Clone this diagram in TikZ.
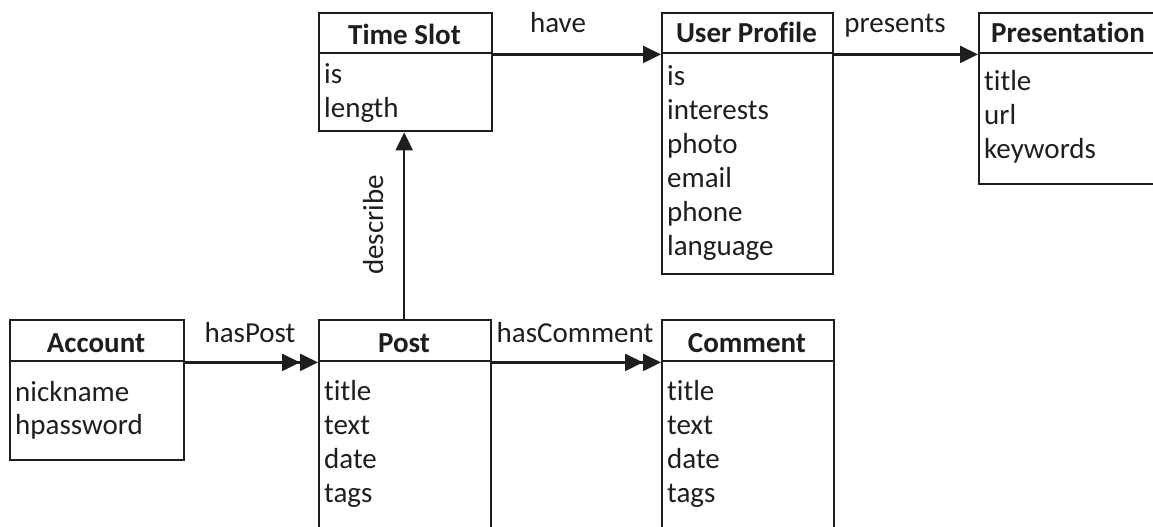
\documentclass[tikz,border=0pt]{standalone}
\usepackage{fontspec}
\setmainfont{Carlito}[Ligatures=NoCommon]
\usetikzlibrary{arrows.meta}
\definecolor{ink}{RGB}{30,30,30}
\begin{document}
\begin{tikzpicture}[x=1pt,y=-1pt,
  frame/.style={draw=ink, line width=2.4pt, rectangle, inner sep=0pt, anchor=north west},
  head/.style={font=\fontsize{29}{34}\selectfont\bfseries, text=ink, anchor=base, inner sep=0pt},
  field/.style={font=\fontsize{29}{34}\selectfont, text=ink, anchor=base west, inner sep=0pt},
  rel/.style={font=\fontsize{29}{34}\selectfont, text=ink, anchor=base, inner sep=0pt},
  tip/.style={},
  link/.style={draw=ink, line width=2.4pt, -{Triangle[length=18pt,width=17pt]}},
  dlink/.style={draw=ink, line width=2.4pt, -{Triangle[length=18pt,width=17pt,sep=0pt]Triangle[length=18pt,width=17pt]}},
]
\useasboundingbox (0,0) rectangle (1153,527);
\clip (0,0) rectangle (1153,527);

% Time Slot
\node[frame, minimum width=173pt, minimum height=40pt] (tsH) at (318,12) {};
\node[frame, minimum width=173pt, minimum height=78pt] (tsB) at (318,52) {};
\node[head] (tsT) at (404.5,45) {Time Slot};
\node[field] (ts1) at (324,83) {is};
\node[field] (ts2) at (324,117) {length};

% User Profile
\node[frame, minimum width=171pt, minimum height=40pt] (upH) at (661,12) {};
\node[frame, minimum width=171pt, minimum height=221pt] (upB) at (661,52) {};
\node[head] (upT) at (746.5,43) {User Profile};
\node[field] (up1) at (667,85) {is};
\node[field] (up2) at (667,119) {interests};
\node[field] (up3) at (667,153) {photo};
\node[field] (up4) at (667,187) {email};
\node[field] (up5) at (667,221) {phone};
\node[field] (up6) at (667,255) {language};

% Presentation
\node[frame, minimum width=200pt, minimum height=40pt] (prH) at (978,12) {};
\node[frame, minimum width=200pt, minimum height=131pt] (prB) at (978,52) {};
\node[head] (prT) at (1068,43) {Presentation};
\node[field] (pr1) at (984,90) {title};
\node[field] (pr2) at (984,124) {url};
\node[field] (pr3) at (984,158) {keywords};

% Account
\node[frame, minimum width=174pt, minimum height=41pt] (acH) at (9,319) {};
\node[frame, minimum width=174pt, minimum height=99pt] (acB) at (9,360) {};
\node[head] (acT) at (96,352) {Account};
\node[field] (ac1) at (15,401) {nickname};
\node[field] (ac2) at (15,434) {hpassword};

% Post
\node[frame, minimum width=172pt, minimum height=41pt] (poH) at (318,319) {};
\node[frame, minimum width=172pt, minimum height=200pt] (poB) at (318,360) {};
\node[head] (poT) at (404,352) {Post};
\node[field] (po1) at (324,400) {title};
\node[field] (po2) at (324,434) {text};
\node[field] (po3) at (324,468) {date};
\node[field] (po4) at (324,502) {tags};

% Comment
\node[frame, minimum width=172pt, minimum height=41pt] (coH) at (661,319) {};
\node[frame, minimum width=172pt, minimum height=200pt] (coB) at (661,360) {};
\node[head] (coT) at (747,352) {Comment};
\node[field] (co1) at (667,400) {title};
\node[field] (co2) at (667,434) {text};
\node[field] (co3) at (667,468) {date};
\node[field] (co4) at (667,502) {tags};

% connectors
\draw[link] (tsH.south east) -- (upH.south west);
\node[rel] (lhave) at (558,33) {have};
\draw[link] (upH.south east) -- (prH.south west);
\node[rel] (lpres) at (895,33) {presents};
\draw[dlink] (acH.south east) -- (poH.south west);
\node[rel] (lhp) at (250,342) {hasPost};
\draw[dlink] (poH.south east) -- (coH.south west);
\node[rel] (lhc) at (575,342) {hasComment};
\draw[link] ([xshift=-1pt]poH.north) -- ([xshift=-1pt]poH.north |- tsB.south);
\node[rel, rotate=90] (ldesc) at (383,225) {describe};
\end{tikzpicture}
\end{document}
